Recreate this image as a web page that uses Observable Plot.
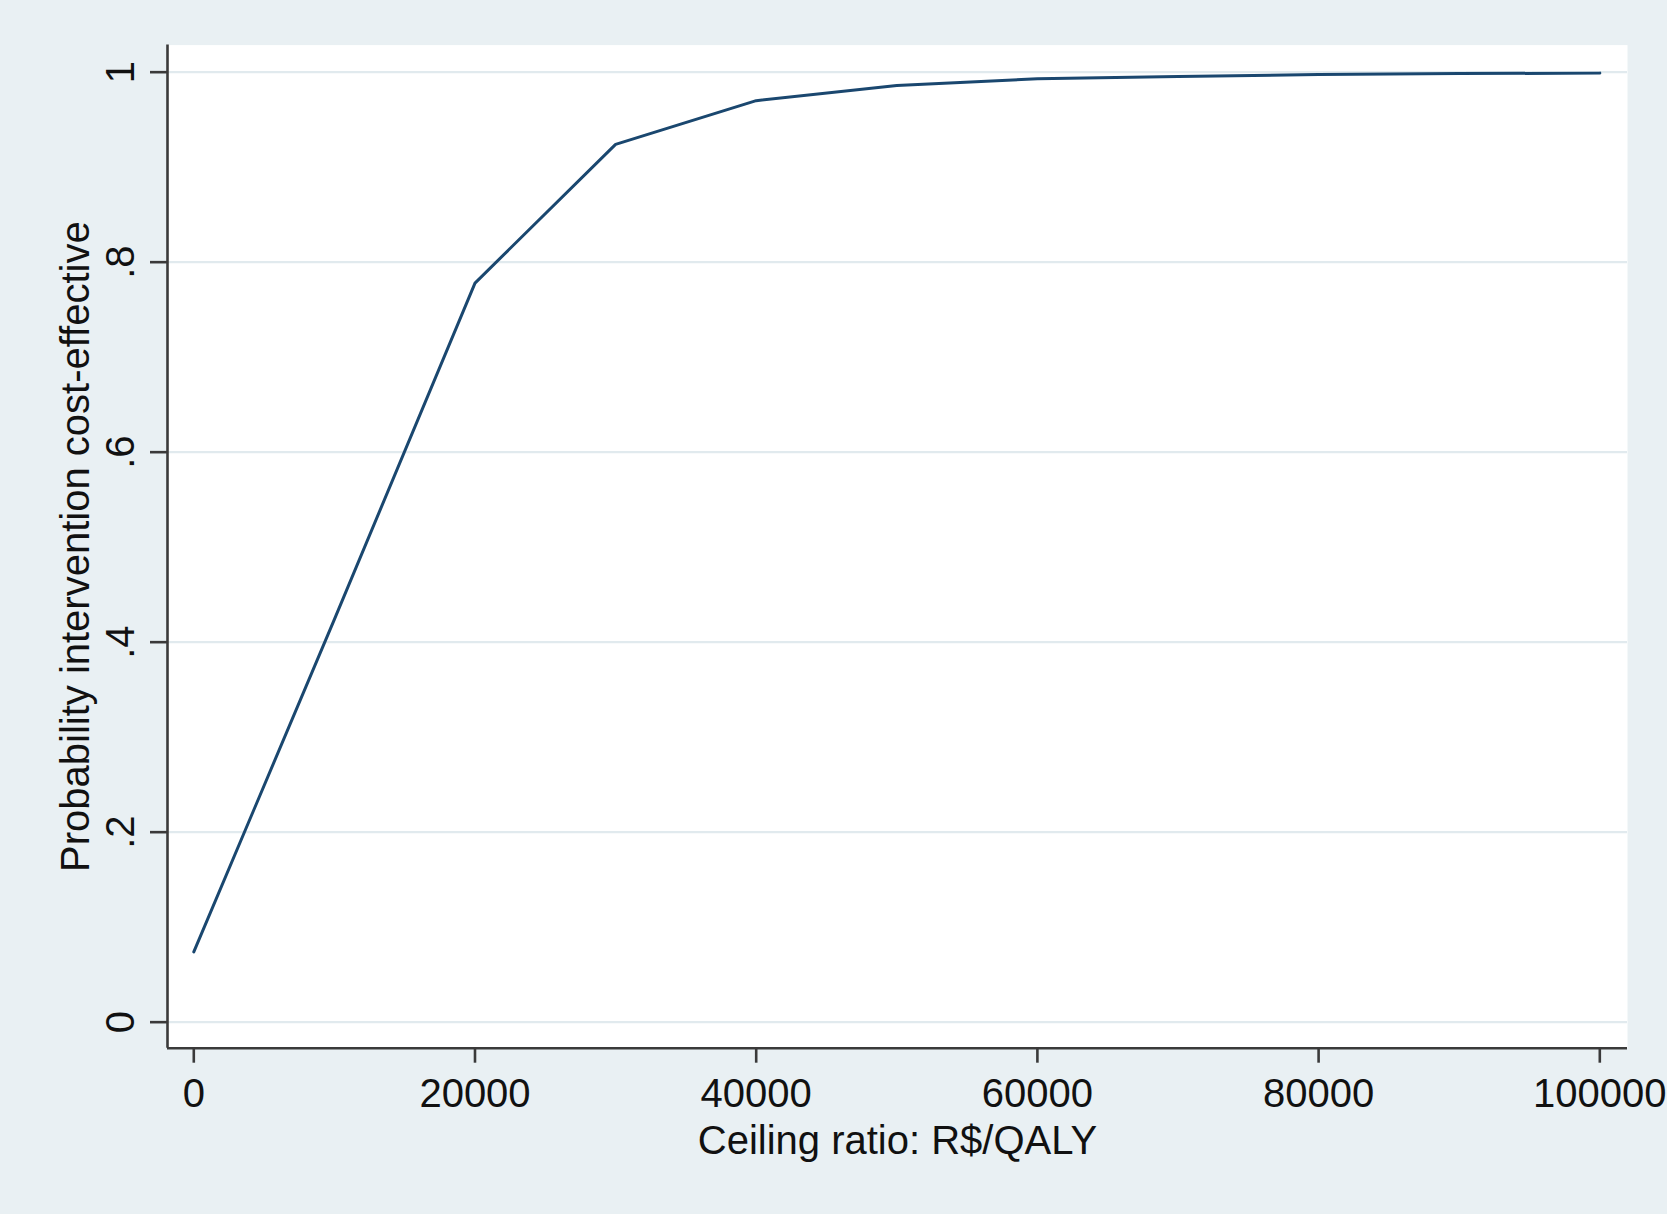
<!DOCTYPE html>
<html><head><meta charset="utf-8">
<script src="https://cdn.jsdelivr.net/npm/d3@7"></script>
<script src="https://cdn.jsdelivr.net/npm/@observablehq/plot@0.6"></script>
<style>html,body{margin:0;padding:0;background:#E9F0F3;overflow:hidden}</style>
</head><body><div id="chart"></div>
<script>
const ceiling = [0, 10000, 20000, 30000, 40000, 50000, 60000, 70000, 80000, 90000, 100000];
const probability = [0.074, 0.424, 0.778, 0.924, 0.970, 0.986, 0.993, 0.9955, 0.9975, 0.9985, 0.999];
const xTicks = [0, 20000, 40000, 60000, 80000, 100000];
const yTicks = [0, 0.2, 0.4, 0.6, 0.8, 1];
const yTickLabels = ["0", ".2", ".4", ".6", ".8", "1"];
const xDomain = [-1870, 101970];
const yDomain = [-0.0274, 1.0285];
const xTitle = "Ceiling ratio: R$/QALY";
const yTitle = "Probability intervention cost-effective";

const data = ceiling.map((c, i) => ({ceiling: c, probability: probability[i]}));
const axisStroke = "#3a3a3a";
const chart = Plot.plot({
  width: 1667, height: 1214,
  marginLeft: 167, marginRight: 40, marginTop: 44.6, marginBottom: 166.3,
  style: {background: "#E9F0F3", fontFamily: "'Liberation Sans', Arial, sans-serif", fontSize: "40px", color: "#111", overflow: "visible"},
  x: {domain: xDomain},
  y: {domain: yDomain},
  marks: [
    Plot.frame({fill: "white", stroke: "none"}),
    Plot.gridY(yTicks, {stroke: "#E1EAEE", strokeOpacity: 1, strokeWidth: 2.2}),
    Plot.ruleX([xDomain[0]], {stroke: axisStroke, strokeWidth: 2.6}),
    Plot.ruleY([yDomain[0]], {stroke: axisStroke, strokeWidth: 2.6}),
    Plot.axisX(xTicks, {tickSize: 15, tickPadding: 15, tickFormat: d => String(d), stroke: axisStroke, strokeWidth: 2.6, fill: "#111", label: null}),
    Plot.axisY(yTicks, {tickSize: 17, tickPadding: 17, tickRotate: -90, textAnchor: "middle", lineAnchor: "bottom", tickFormat: d => yTickLabels[yTicks.indexOf(d)], stroke: axisStroke, strokeWidth: 2.6, fill: "#111", label: null}),
    Plot.line(data, {x: "ceiling", y: "probability", stroke: "#1A476F", strokeWidth: 3}),
    Plot.text([xTitle], {frameAnchor: "bottom", dy: 105.3, lineAnchor: "bottom", text: d => d, fill: "#111"}),
    Plot.text([yTitle], {frameAnchor: "left", dx: -79, rotate: -90, lineAnchor: "bottom", textAnchor: "middle", text: d => d, fill: "#111"})
  ]
});
document.getElementById("chart").appendChild(chart);
</script>
</body></html>
